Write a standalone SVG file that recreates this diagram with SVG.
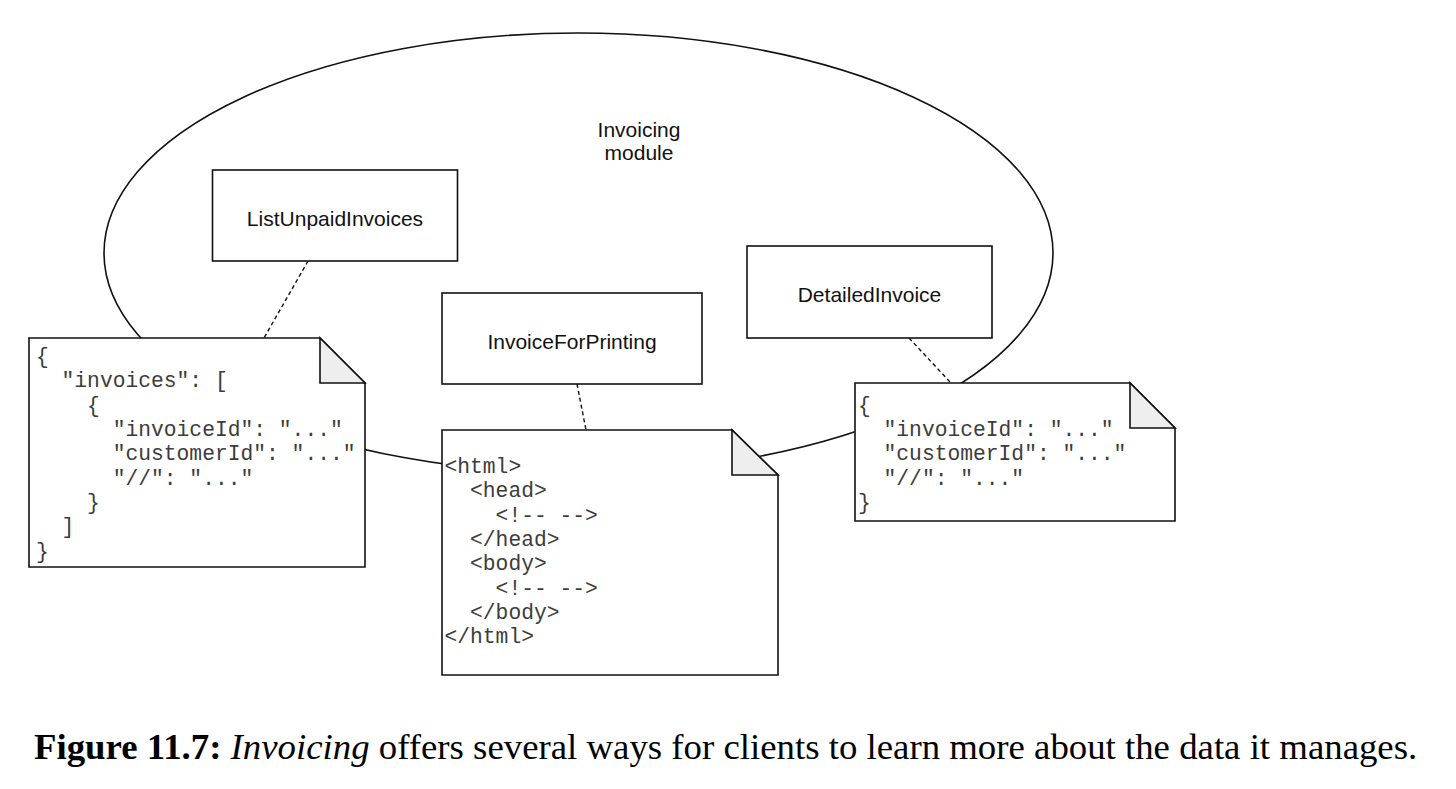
<svg xmlns="http://www.w3.org/2000/svg" width="1456" height="789" viewBox="0 0 1456 789">
<style>
.bg{fill:#ffffff}
.module{fill:none;stroke:#111;stroke-width:1.6}
.box{fill:#ffffff;stroke:#111;stroke-width:1.6}
.doc{fill:#ffffff;stroke:#111;stroke-width:1.6;stroke-linejoin:miter}
.fold{fill:#eeeeee;stroke:#111;stroke-width:1.6}
.dash{fill:none;stroke:#111;stroke-width:1.4;stroke-dasharray:4 3}
.label{font-family:"Liberation Sans",Arial,sans-serif;font-size:21px;fill:#111;text-anchor:middle}
.code{font-family:"Liberation Mono","Courier New",monospace;font-size:21.3px;fill:#3c3c3c;white-space:pre}
.caption{font-family:"Liberation Serif","Times New Roman",serif;font-size:36.8px;fill:#000}
</style>
<rect class="bg" x="0" y="0" width="1456" height="789"/>

<g id="invoicing-module">
  <ellipse class="module" cx="578.5" cy="253" rx="474.5" ry="220"/>
  <text class="label" font-size="20" x="639" y="136.5">Invoicing</text>
  <text class="label" font-size="20" x="639" y="160">module</text>
</g>

<g id="connectors">
  <line class="dash" x1="308" y1="261" x2="264" y2="338"/>
  <line class="dash" x1="577" y1="384" x2="586" y2="430"/>
  <line class="dash" x1="909" y1="338" x2="951" y2="383"/>
</g>

<g id="ListUnpaidInvoices">
  <rect class="box" x="212.5" y="170" width="245" height="91"/>
  <text class="label" x="335" y="225.5">ListUnpaidInvoices</text>
</g>

<g id="InvoiceForPrinting">
  <rect class="box" x="442" y="293" width="260" height="91"/>
  <text class="label" x="572" y="348.5">InvoiceForPrinting</text>
</g>

<g id="DetailedInvoice">
  <rect class="box" x="747" y="246" width="245" height="92"/>
  <text class="label" x="869.5" y="302">DetailedInvoice</text>
</g>

<g id="doc-list-json">
  <polygon class="doc" points="29,338 320,338 365,383 365,567 29,567"/>
  <polygon class="fold" points="320,338 320,383 365,383"/>
  <text class="code" xml:space="preserve"><tspan x="36" y="363">{</tspan><tspan x="36" y="387.3">  "invoices": [</tspan><tspan x="36" y="411.6">    {</tspan><tspan x="36" y="436">      "invoiceId": "..."</tspan><tspan x="36" y="460.3">      "customerId": "..."</tspan><tspan x="36" y="484.6">      "//": "..."</tspan><tspan x="36" y="508.9">    }</tspan><tspan x="36" y="533.2">  ]</tspan><tspan x="36" y="557.5">}</tspan></text>
</g>

<g id="doc-html">
  <polygon class="doc" points="442,430 732,430 778,475 778,675 442,675"/>
  <polygon class="fold" points="732,430 732,475 778,475"/>
  <text class="code" xml:space="preserve"><tspan x="444.5" y="473">&lt;html&gt;</tspan><tspan x="444.5" y="497.3">  &lt;head&gt;</tspan><tspan x="444.5" y="521.6">    &lt;!-- --&gt;</tspan><tspan x="444.5" y="545.9">  &lt;/head&gt;</tspan><tspan x="444.5" y="570.2">  &lt;body&gt;</tspan><tspan x="444.5" y="594.5">    &lt;!-- --&gt;</tspan><tspan x="444.5" y="618.8">  &lt;/body&gt;</tspan><tspan x="444.5" y="643">&lt;/html&gt;</tspan></text>
</g>

<g id="doc-detail-json">
  <polygon class="doc" points="855,383 1130,383 1175,428 1175,521 855,521"/>
  <polygon class="fold" points="1130,383 1130,428 1175,428"/>
  <text class="code" xml:space="preserve"><tspan x="858" y="411.7">{</tspan><tspan x="858" y="436">  "invoiceId": "..."</tspan><tspan x="858" y="460.3">  "customerId": "..."</tspan><tspan x="858" y="484.6">  "//": "..."</tspan><tspan x="858" y="508.9">}</tspan></text>
</g>

<text class="caption" x="34" y="759"><tspan font-weight="bold">Figure 11.7:</tspan> <tspan font-style="italic">Invoicing</tspan> offers several ways for clients to learn more about the data it manages.</text>
</svg>
